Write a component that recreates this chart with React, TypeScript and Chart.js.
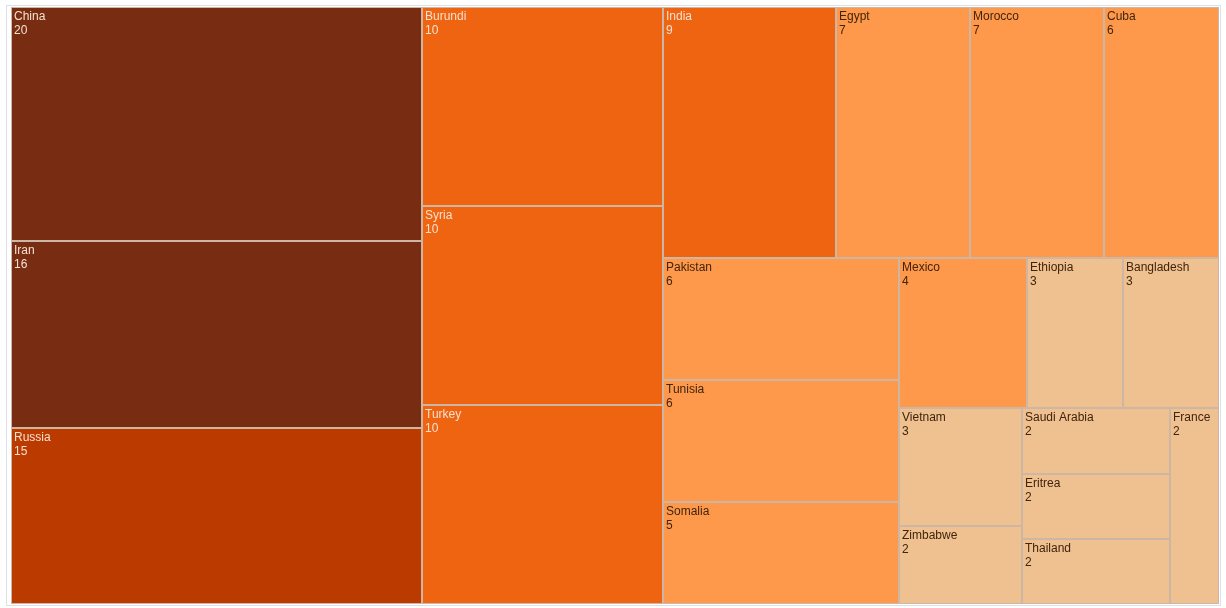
import React, { useEffect, useRef } from "react";
import { Chart, registerables } from "chart.js";

Chart.register(...registerables);

// ---- data ----
const countries = [
  "China", "Iran", "Russia", "Burundi", "Syria", "Turkey", "India", "Egypt",
  "Morocco", "Cuba", "Pakistan", "Tunisia", "Somalia", "Mexico", "Ethiopia",
  "Bangladesh", "Vietnam", "Zimbabwe", "Saudi Arabia", "Eritrea", "Thailand", "France",
];
const counts = [20, 16, 15, 10, 10, 10, 9, 7, 7, 6, 6, 6, 5, 4, 3, 3, 3, 2, 2, 2, 2, 2];

const GOLDEN = (1 + Math.sqrt(5)) / 2;

function fillFor(v: number): string {
  if (v >= 16) return "#782d12";
  if (v >= 15) return "#ba3a00";
  if (v >= 8) return "#ef6411";
  if (v >= 4) return "#fe984b";
  return "#efc090";
}
function textFor(v: number): string {
  return v >= 8 ? "#f6e0d0" : "#40240c";
}

type Cell = { i: number; x0: number; y0: number; x1: number; y1: number };

// squarified treemap (golden-ratio target), in a W x 1 box
function squarify(values: number[], W: number): Cell[] {
  const out: Cell[] = [];
  let x0 = 0, y0 = 0;
  const x1 = W, y1 = 1;
  let value = values.reduce((a, b) => a + b, 0);
  let i0 = 0, i1 = 0;
  const n = values.length;
  while (i0 < n) {
    const dx = x1 - x0, dy = y1 - y0;
    let sumValue = values[i1++];
    let minV = sumValue, maxV = sumValue;
    const alpha = Math.max(dy / dx, dx / dy) / (value * GOLDEN);
    let beta = sumValue * sumValue * alpha;
    let minRatio = Math.max(maxV / beta, beta / minV);
    for (; i1 < n; ++i1) {
      const v = values[i1];
      sumValue += v;
      if (v < minV) minV = v;
      if (v > maxV) maxV = v;
      beta = sumValue * sumValue * alpha;
      const nr = Math.max(maxV / beta, beta / minV);
      if (nr > minRatio) { sumValue -= v; break; }
      minRatio = nr;
    }
    if (dx < dy) {
      const ny = y0 + (dy * sumValue) / value;
      let x = x0;
      for (let k = i0; k < i1; k++) {
        const w = (dx * values[k]) / sumValue;
        out.push({ i: k, x0: x, y0, x1: x + w, y1: ny });
        x += w;
      }
      y0 = ny;
    } else {
      const nx = x0 + (dx * sumValue) / value;
      let y = y0;
      for (let k = i0; k < i1; k++) {
        const h = (dy * values[k]) / sumValue;
        out.push({ i: k, x0, y0: y, x1: nx, y1: y + h });
        y += h;
      }
      x0 = nx;
    }
    value -= sumValue;
    i0 = i1;
  }
  return out;
}

const treemapPlugin = {
  id: "treemapCells",
  afterDraw(chart: any) {
    const { ctx, chartArea, scales } = chart;
    const xs = scales.x, ys = scales.y;
    const W = (chartArea.right - chartArea.left) / (chartArea.bottom - chartArea.top);
    const cells = squarify(counts, W);
    ctx.save();
    // outer frame
    ctx.strokeStyle = "#dde0e4";
    ctx.lineWidth = 1;
    ctx.strokeRect(6.5, 5.5, chart.width - 12, chart.height - 8);
    const px = (c: Cell) => ({
      rx0: Math.round(xs.getPixelForValue(c.x0 / W)),
      rx1: Math.round(xs.getPixelForValue(c.x1 / W)),
      ry0: Math.round(ys.getPixelForValue(c.y0)),
      ry1: Math.round(ys.getPixelForValue(c.y1)),
    });
    for (const c of cells) {
      const { rx0, rx1, ry0, ry1 } = px(c);
      ctx.fillStyle = fillFor(counts[c.i]);
      ctx.fillRect(rx0, ry0, rx1 - rx0, ry1 - ry0);
    }
    ctx.strokeStyle = "#cdb6a4";
    for (const c of cells) {
      const { rx0, rx1, ry0, ry1 } = px(c);
      ctx.strokeRect(rx0 + 0.5, ry0 + 0.5, rx1 - rx0 - 1, ry1 - ry0 - 1);
    }
    ctx.font = '12px "Liberation Sans", Arial, sans-serif';
    ctx.textBaseline = "top";
    ctx.textAlign = "left";
    for (const c of cells) {
      const { rx0, ry0 } = px(c);
      ctx.fillStyle = textFor(counts[c.i]);
      ctx.fillText(countries[c.i], rx0 + 3, ry0 + 4);
      ctx.fillText(String(counts[c.i]), rx0 + 3, ry0 + 18);
    }
    ctx.restore();
  },
};

export default function App() {
  const ref = useRef<HTMLCanvasElement | null>(null);
  useEffect(() => {
    document.body.style.margin = "0";
    const canvas = ref.current!;
    const chart = new Chart(canvas, {
      type: "scatter",
      data: { datasets: [{ label: "Count", data: [] }] },
      options: {
        animation: false,
        responsive: false,
        layout: { padding: { left: 11, top: 7, right: 7, bottom: 4 } },
        scales: {
          x: { type: "linear", min: 0, max: 1, display: false },
          y: { type: "linear", min: 0, max: 1, reverse: true, display: false },
        },
        plugins: { legend: { display: false }, tooltip: { enabled: false } },
      },
      plugins: [treemapPlugin],
    });
    return () => chart.destroy();
  }, []);
  return (
    <div style={{ position: "absolute", left: 0, top: 0, width: 1226, height: 608, background: "#fff" }}>
      <canvas ref={ref} width={1226} height={608} style={{ display: "block" }} />
    </div>
  );
}
